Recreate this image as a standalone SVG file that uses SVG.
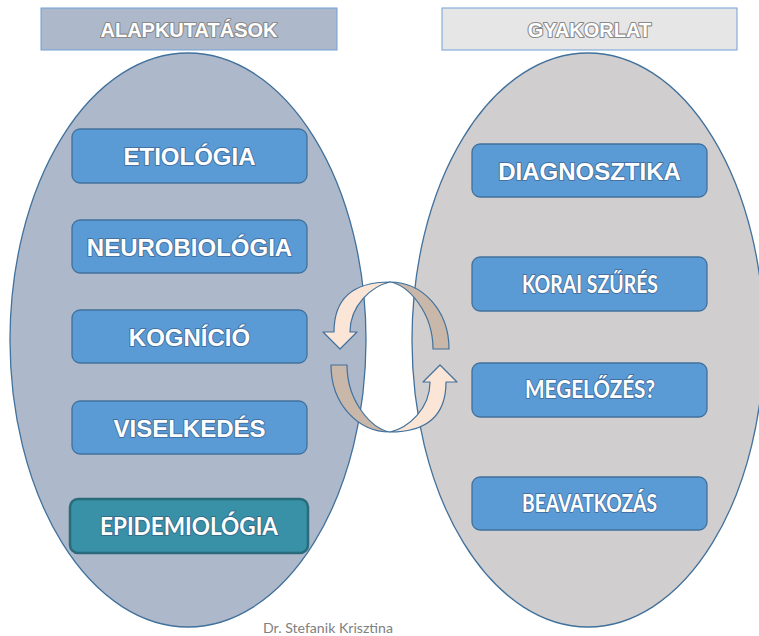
<svg xmlns="http://www.w3.org/2000/svg" width="759" height="636" viewBox="0 0 759 636">
<defs>
<style>
.ell{stroke:#41719c;stroke-width:1.3}
.hdr{stroke:#6fa0d8;stroke-width:1}
.box{fill:#5b9bd5;stroke:#41719c;stroke-width:1.3}
.epi{fill:#3891a6;stroke:#296b7a;stroke-width:2.5}
.ht{font-family:"Liberation Sans",Arial,sans-serif;font-weight:bold;font-size:20px;fill:#fff;stroke:#8a8a8a;stroke-width:2.2;paint-order:stroke;stroke-linejoin:round;text-anchor:middle}
.bt{font-family:"Liberation Sans",Arial,sans-serif;font-weight:bold;font-size:24px;fill:#fff;stroke:#2f4f75;stroke-opacity:0.55;stroke-width:2;paint-order:stroke;stroke-linejoin:round;text-anchor:middle}
.ct{font-family:Lato,"Open Sans",sans-serif;font-weight:bold;font-size:24px;fill:#fff;stroke:#2f4f75;stroke-opacity:0.55;stroke-width:2;paint-order:stroke;stroke-linejoin:round}
.tan{fill:#c9b8aa;stroke:#41719c;stroke-width:1.2;stroke-linejoin:round}
.peach{fill:#fbe5d6;stroke:#41719c;stroke-width:1.2;stroke-linejoin:round}
.foot{font-family:Lato,"Open Sans",sans-serif;font-size:13.5px;fill:#7f7f7f}
</style>
<path id="tanArc" class="tan" d="M390,282 C408,285 433,312 433,349 L449,349 C449,310 422,282 390,282 Z"/>
<path id="peachArc" class="peach" d="M390,282 C352,282 334,300 334,332 L323,332 L340,349 L357,332 L350,332 C350,305 372,286 390,282 Z"/>
</defs>
<rect width="759" height="636" fill="#fff"/>
<g id="left-ellipse"><ellipse class="ell" cx="188" cy="340" rx="178" ry="287" fill="#adb9ca"/></g>
<g id="right-ellipse"><ellipse class="ell" cx="588" cy="340" rx="176" ry="287" fill="#d0cece"/></g>
<g id="hdr-left"><rect class="hdr" x="41" y="8" width="296" height="42" fill="#adb9ca"/><text class="ht" x="189" y="37">ALAPKUTATÁSOK</text></g>
<g id="hdr-right"><rect class="hdr" x="442" y="8" width="295" height="42" fill="#e7e6e6"/><text class="ht" x="589.5" y="37">GYAKORLAT</text></g>
<g id="etiologia"><rect class="box" x="72" y="129" width="235" height="54" rx="8"/><text class="bt" x="189.5" y="165">ETIOLÓGIA</text></g>
<g id="neurobiologia"><rect class="box" x="72" y="220" width="235" height="53" rx="8"/><text class="bt" x="189.5" y="256">NEUROBIOLÓGIA</text></g>
<g id="kognicio"><rect class="box" x="72" y="310" width="235" height="53" rx="8"/><text class="bt" x="189.5" y="346">KOGNÍCIÓ</text></g>
<g id="viselkedes"><rect class="box" x="72" y="401" width="235" height="53" rx="8"/><text class="bt" x="189.5" y="437">VISELKEDÉS</text></g>
<g id="epidemiologia"><rect class="epi" x="70" y="499" width="238" height="54" rx="8"/><text class="ct" x="100" y="535" textLength="178" lengthAdjust="spacingAndGlyphs">EPIDEMIOLÓGIA</text></g>
<g id="diagnosztika"><rect class="box" x="472" y="144" width="235" height="53" rx="8"/><text class="bt" x="589.5" y="180">DIAGNOSZTIKA</text></g>
<g id="korai"><rect class="box" x="472" y="257" width="235" height="54" rx="8"/><text class="ct" x="522" y="293" textLength="136" lengthAdjust="spacingAndGlyphs">KORAI SZŰRÉS</text></g>
<g id="megelozes"><rect class="box" x="472" y="363" width="235" height="54" rx="8"/><text class="ct" x="525" y="398" textLength="130" lengthAdjust="spacingAndGlyphs">MEGELŐZÉS?</text></g>
<g id="beavatkozas"><rect class="box" x="472" y="477" width="235" height="53" rx="8"/><text class="ct" x="522" y="512" textLength="135" lengthAdjust="spacingAndGlyphs">BEAVATKOZÁS</text></g>
<g id="connectors">
<use href="#tanArc"/>
<use href="#peachArc"/>
<g transform="rotate(180 390 357)">
<use href="#tanArc"/>
<use href="#peachArc"/>
</g>
</g>
<text class="foot" x="263" y="633" textLength="130" lengthAdjust="spacingAndGlyphs">Dr. Stefanik Krisztina</text>
</svg>
